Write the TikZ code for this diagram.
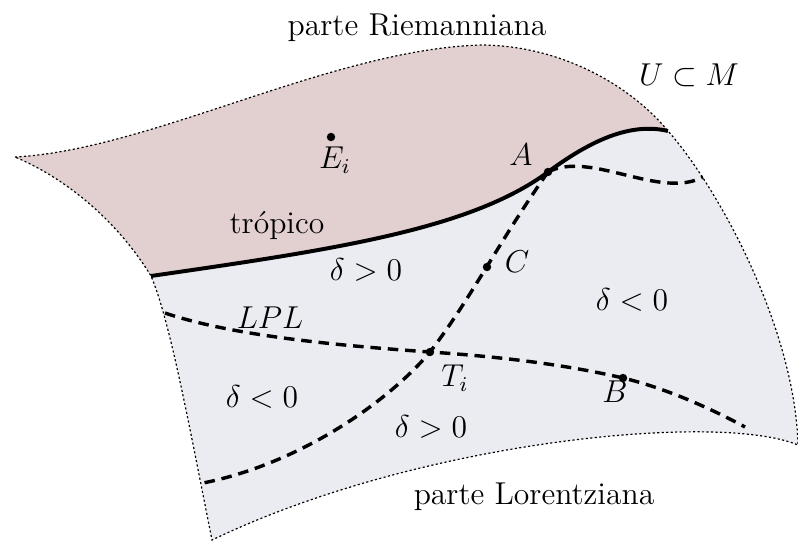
\documentclass[tikz,border=0pt]{standalone}
\usepackage{amsmath}
\usepackage{xcolor}
\usepackage{tikz}
\usetikzlibrary{positioning, calc}

\definecolor{riemann}{RGB}{226,207,208}
\definecolor{lorentz}{RGB}{235,235,242}

\begin{document}
\begin{tikzpicture}[x=0.01334cm, y=-0.01334cm,
    every node/.style={font=\large},
    borde/.style={line width=0.45pt, dash pattern=on 0.8pt off 0.9pt},
    curva/.style={line width=1.3pt, dash pattern=on 4pt off 2.6pt},
    punto/.style={circle, fill, inner sep=0pt, minimum size=3.2pt}]
  \useasboundingbox (0,0) rectangle (798,541);

  % Esquinas de la superficie
  \coordinate (nw) at (15,157);
  \coordinate (ne) at (668,131);
  \coordinate (se) at (798,445);
  \coordinate (sw) at (212,540);
  \coordinate (tl) at (151,276);

  % Puntos sobre la superficie
  \coordinate (A) at (548,172);
  \coordinate (C) at (487,267);
  \coordinate (T) at (430,352);
  \coordinate (B) at (623,378);
  \coordinate (E) at (331,137);
  \coordinate (lpl0) at (165,313);
  \coordinate (lpl1) at (745,427);
  \coordinate (din0) at (198,484);
  \coordinate (din1) at (703,177);

  % Parte Lorentziana
  \fill[lorentz] (tl) .. controls (330,250) and (470,230) .. (A)
    .. controls (590,141) and (630,122) .. (ne)
    .. controls (720,190) and (795,330) .. (se)
    .. controls (720,412) and (420,440) .. (sw)
    .. controls (190,430) and (170,320) .. (tl);

  % Parte Riemanniana
  \fill[riemann] (nw) .. controls (150,150) and (330,50) .. (480,45)
    .. controls (560,45) and (630,85) .. (ne)
    .. controls (630,122) and (590,141) .. (A)
    .. controls (470,230) and (330,250) .. (tl)
    .. controls (120,225) and (70,180) .. (nw);

  % Borde de U
  \draw[borde] (nw) .. controls (150,150) and (330,50) .. (480,45)
    .. controls (560,45) and (630,85) .. (ne)
    .. controls (720,190) and (795,330) .. (se)
    .. controls (720,412) and (420,440) .. (sw)
    .. controls (190,430) and (170,320) .. (tl)
    .. controls (120,225) and (70,180) .. (nw);

  % Tropico
  \draw[line width=1.5pt] (tl) .. controls (330,250) and (470,230) .. (A)
    .. controls (590,141) and (630,122) .. (ne);

  % Curvas de delta = 0
  \draw[curva] (A) .. controls (590,150) and (660,200) .. (din1);
  \draw[curva] (A) .. controls (500,240) and (470,300) .. (T)
    .. controls (390,400) and (300,465) .. (din0);
  \draw[curva] (lpl0) .. controls (230,335) and (330,345) .. (T)
    .. controls (520,358) and (580,368) .. (B)
    .. controls (665,388) and (710,408) .. (lpl1);

  % Puntos
  \foreach \p in {A, C, T, B, E} {
    \node[punto] (p\p) at (\p) {};
  }

  % Etiquetas
  \node (lA) at (521,155) {$A$};
  \node (lC) at (517,262) {$C$};
  \node (lT) at (455,378) {$T_i$};
  \node (lB) at (615,392) {$B$};
  \node (lE) at (335,160) {$E_i$};
  \node (trop) at (277,226) {trópico};
  \node (lpl) at (270,318) {$LPL$};
  \node (d1) at (366,270) {$\delta > 0$};
  \node (d2) at (632,300) {$\delta < 0$};
  \node (d3) at (262,397) {$\delta < 0$};
  \node (d4) at (431,427) {$\delta > 0$};
  \node (U) at (689,75) {$U \subset M$};
  \node (riem) at (417,28) {parte Riemanniana};
  \node (lor) at (534,497) {parte Lorentziana};
\end{tikzpicture}
\end{document}
